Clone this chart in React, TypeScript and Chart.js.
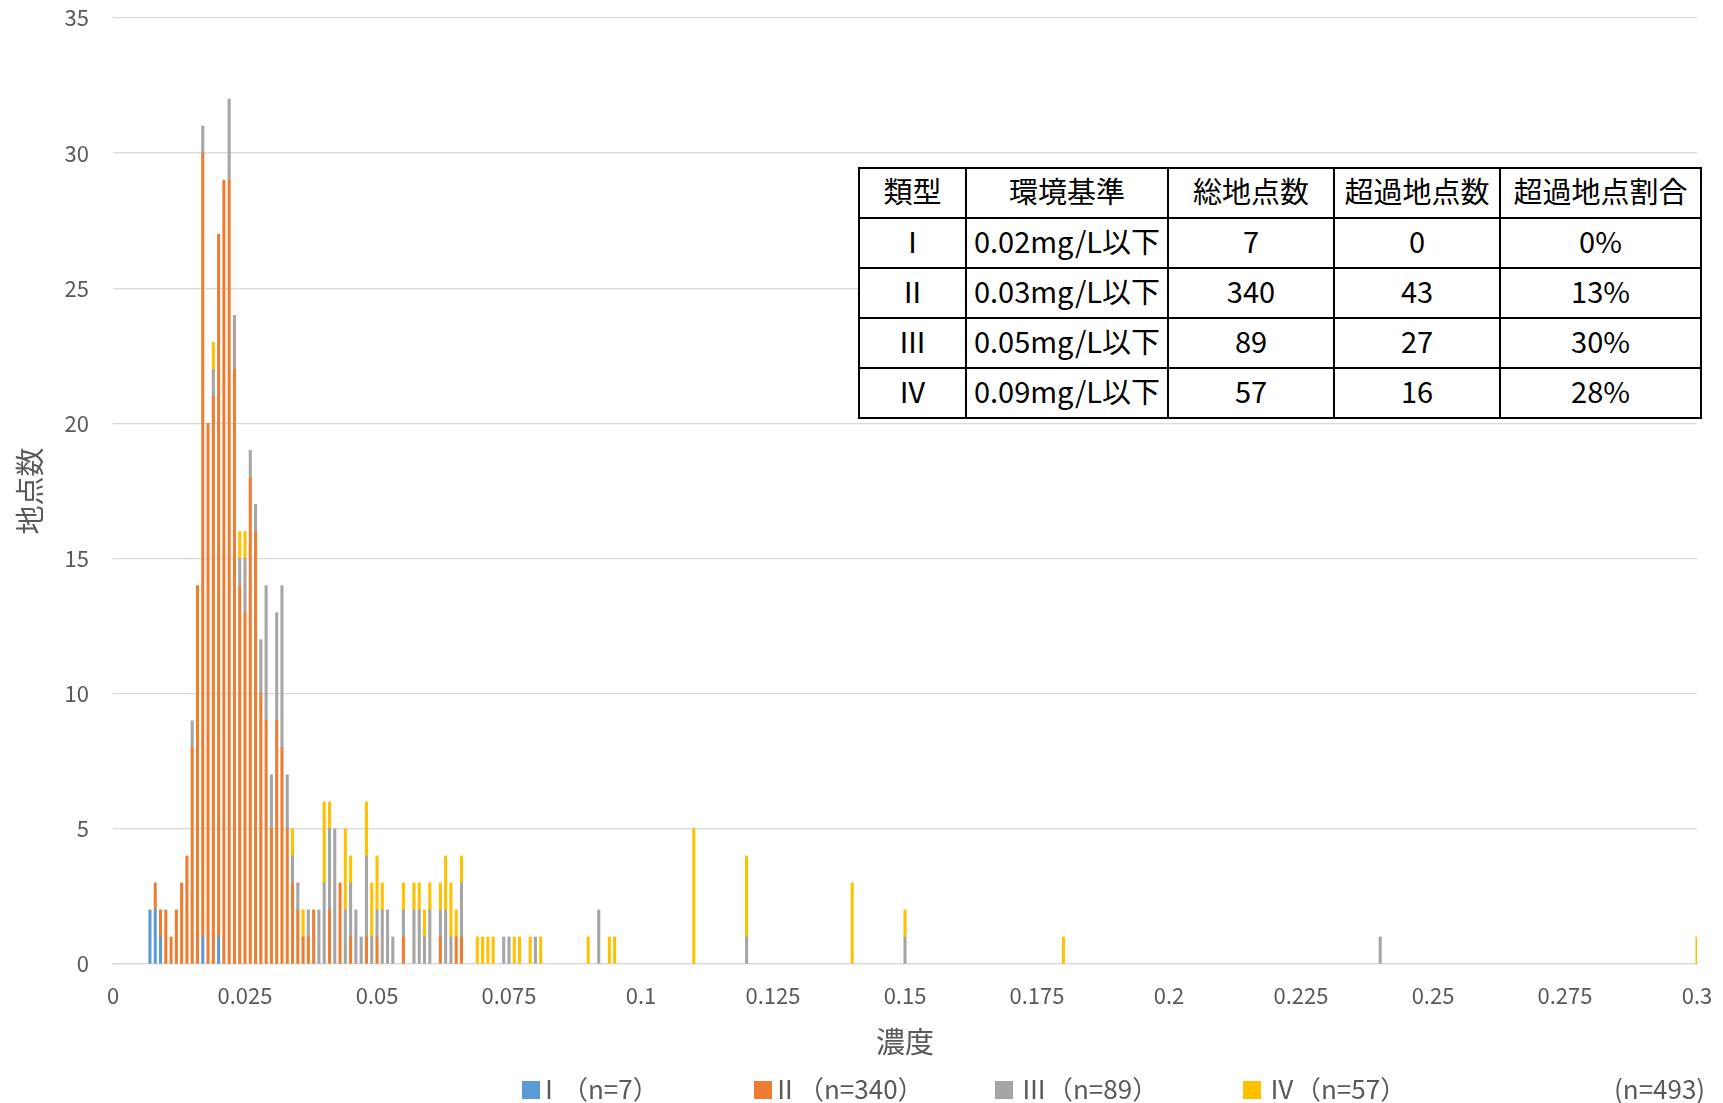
import React, { useEffect, useRef } from 'react';
import { Chart, registerables } from 'chart.js';

Chart.register(...registerables);

const FONT = '"Noto Sans CJK JP", "Noto Sans", sans-serif';

// ---- series data (concentration in mg/L, number of sites) ----
const typeIConc = [0.007, 0.008, 0.009, 0.017, 0.020];
const typeICount = [2, 2, 1, 1, 1];

const typeIIConc = [
  0.008, 0.009, 0.010, 0.011, 0.012, 0.013, 0.014, 0.015, 0.016, 0.017,
  0.018, 0.019, 0.020, 0.021, 0.022, 0.023, 0.024, 0.025, 0.026, 0.027,
  0.028, 0.029, 0.030, 0.031, 0.032, 0.033, 0.034, 0.035, 0.036, 0.037,
  0.038, 0.041, 0.043, 0.045, 0.048, 0.050, 0.055, 0.062, 0.065, 0.066,
];
const typeIICount = [
  1, 1, 2, 1, 2, 3, 4, 8, 14, 29,
  20, 21, 26, 29, 29, 22, 14, 13, 18, 16,
  10, 9, 5, 9, 8, 5, 3, 2, 1, 1,
  2, 2, 3, 1, 1, 1, 1, 1, 1, 1,
];

const typeIIIConc = [
  0.015, 0.017, 0.019, 0.022, 0.023, 0.024, 0.025, 0.026, 0.027, 0.028,
  0.029, 0.030, 0.031, 0.032, 0.033, 0.034, 0.035, 0.037, 0.039, 0.040,
  0.041, 0.042, 0.044, 0.045, 0.046, 0.047, 0.048, 0.049, 0.050, 0.051,
  0.052, 0.053, 0.055, 0.057, 0.058, 0.059, 0.060, 0.062, 0.063, 0.064,
  0.066, 0.074, 0.075, 0.080, 0.092, 0.120, 0.150, 0.240,
];
const typeIIICount = [
  1, 1, 1, 3, 2, 1, 2, 1, 1, 2,
  5, 2, 4, 6, 2, 1, 1, 1, 2, 3,
  3, 5, 2, 2, 2, 1, 3, 1, 1, 2,
  2, 1, 1, 2, 2, 1, 2, 1, 2, 1,
  2, 1, 1, 1, 2, 1, 1, 1,
];

const typeIVConc = [
  0.019, 0.024, 0.025, 0.034, 0.036, 0.040, 0.041, 0.044, 0.045, 0.048,
  0.049, 0.050, 0.051, 0.055, 0.057, 0.058, 0.059, 0.060, 0.062, 0.063,
  0.064, 0.065, 0.066, 0.069, 0.070, 0.071, 0.072, 0.076, 0.077, 0.079,
  0.081, 0.090, 0.094, 0.095, 0.110, 0.120, 0.140, 0.150, 0.180, 0.300,
];
const typeIVCount = [
  1, 1, 1, 1, 1, 3, 1, 3, 1, 2,
  2, 2, 1, 1, 1, 1, 1, 1, 1, 2,
  2, 1, 1, 1, 1, 1, 1, 1, 1, 1,
  1, 1, 1, 1, 5, 3, 3, 1, 1, 1,
];

const seriesLabels = ['Ⅰ（n=7）', 'Ⅱ（n=340）', 'Ⅲ（n=89）', 'Ⅳ（n=57）'];
const seriesColors = ['#5B9BD5', '#ED7D31', '#A5A5A5', '#FFC000'];
const totalLabel = '(n=493)';

const xAxisTitle = '濃度';
const yAxisTitle = '地点数';

// ---- table data ----
const tableHeaders = ['類型', '環境基準', '総地点数', '超過地点数', '超過地点割合'];
const tableTypes = ['Ⅰ', 'Ⅱ', 'Ⅲ', 'Ⅳ'];
const tableStandards = ['0.02mg/L以下', '0.03mg/L以下', '0.05mg/L以下', '0.09mg/L以下'];
const tableTotals = ['7', '340', '89', '57'];
const tableExceeded = ['0', '43', '27', '16'];
const tableRatios = ['0%', '13%', '30%', '28%'];

const W = 1723;
const H = 1103;

const toPoints = (xs: number[], ys: number[]) => xs.map((x, i) => ({ x, y: ys[i] }));

const App = () => {
  const canvasRef = useRef<HTMLCanvasElement | null>(null);

  useEffect(() => {
    document.body.style.margin = '0';
    const canvas = canvasRef.current;
    if (!canvas) return;
    const allSeries = [
      toPoints(typeIConc, typeICount),
      toPoints(typeIIConc, typeIICount),
      toPoints(typeIIIConc, typeIIICount),
      toPoints(typeIVConc, typeIVCount),
    ];
    const chart = new Chart(canvas, {
      type: 'bar',
      data: {
        datasets: allSeries.map((pts, i) => ({
          label: seriesLabels[i],
          data: pts,
          backgroundColor: seriesColors[i],
          borderWidth: 0,
          barThickness: 2.4,
        })),
      },
      options: {
        responsive: false,
        animation: false,
        devicePixelRatio: 1,
        layout: { padding: { left: 0, right: 26, top: 18, bottom: 0 } },
        plugins: {
          legend: { display: false },
          tooltip: { enabled: false },
        },
        scales: {
          x: {
            type: 'linear',
            min: 0,
            max: 0.3,
            stacked: true,
            offset: false,
            ticks: {
              stepSize: 0.025,
              padding: 18,
              color: '#595959',
              font: { family: FONT, size: 22 },
              maxRotation: 0,
              autoSkip: false,
              callback: (v: any) => String(parseFloat(Number(v).toFixed(3))),
            },
            grid: { display: false, drawTicks: false },
            border: { display: true, color: '#d9d9d9', width: 1.3 },
            title: {
              display: true,
              text: xAxisTitle,
              color: '#595959',
              font: { family: FONT, size: 29 },
              padding: { top: 0, bottom: 44 },
            },
            afterFit: (s: any) => {
              s.height = 139;
              s.paddingLeft = 0;
              s.paddingRight = 0;
            },
          },
          y: {
            min: 0,
            max: 35,
            stacked: true,
            ticks: {
              stepSize: 5,
              padding: 24,
              color: '#595959',
              font: { family: FONT, size: 22 },
            },
            grid: { color: '#d9d9d9', lineWidth: 1.3, drawTicks: false },
            border: { display: false },
            title: {
              display: true,
              text: yAxisTitle,
              color: '#595959',
              font: { family: FONT, size: 29 },
              padding: { top: 13, bottom: 0 },
            },
            afterFit: (s: any) => {
              s.width = 113;
              s.paddingTop = 0;
              s.paddingBottom = 0;
            },
          },
        },
      },
    } as any);
    return () => chart.destroy();
  }, []);

  const colWidths = [107, 202, 166, 166, 201];
  const rows = tableTypes.map((t, i) => [t, tableStandards[i], tableTotals[i], tableExceeded[i], tableRatios[i]]);
  const cellStyle: React.CSSProperties = {
    border: '2px solid #000',
    padding: '0 0 6px 0',
    textAlign: 'center',
    verticalAlign: 'middle',
    whiteSpace: 'nowrap',
    overflow: 'hidden',
    boxSizing: 'border-box',
  };

  const legendSquares = [522, 754, 995, 1243];
  const legendTextLeft = [536, 772, 1021, 1269];

  return (
    <div style={{ position: 'relative', width: W, height: H, background: '#fff', overflow: 'hidden', fontFamily: FONT }}>
      <canvas ref={canvasRef} width={W} height={H} style={{ position: 'absolute', left: 0, top: 0, width: W, height: H }} />
      <table
        style={{
          position: 'absolute',
          left: 858,
          top: 167,
          width: 842,
          borderCollapse: 'collapse',
          tableLayout: 'fixed',
          background: '#fff',
          fontSize: 29,
          color: '#000',
          fontFamily: FONT,
        }}
      >
        <colgroup>
          {colWidths.map((w, i) => (
            <col key={i} style={{ width: w }} />
          ))}
        </colgroup>
        <tbody>
          <tr style={{ height: 49 }}>
            {tableHeaders.map((h, i) => (
              <td key={i} style={cellStyle}>{h}</td>
            ))}
          </tr>
          {rows.map((r, ri) => (
            <tr key={ri} style={{ height: 49 }}>
              {r.map((c, ci) => (
                <td key={ci} style={cellStyle}>{c}</td>
              ))}
            </tr>
          ))}
        </tbody>
      </table>
      {seriesLabels.map((lab, i) => (
        <React.Fragment key={i}>
          <div
            style={{
              position: 'absolute',
              left: legendSquares[i],
              top: 1081,
              width: 18,
              height: 18,
              background: seriesColors[i],
            }}
          />
          <div
            style={{
              position: 'absolute',
              left: legendTextLeft[i],
              top: 1072,
              height: 32,
              lineHeight: '32px',
              fontSize: 26,
              color: '#595959',
              whiteSpace: 'nowrap',
            }}
          >
            {lab}
          </div>
        </React.Fragment>
      ))}
      <div
        style={{
          position: 'absolute',
          left: 1614,
          top: 1072,
          height: 32,
          lineHeight: '32px',
          fontSize: 26,
          color: '#595959',
          whiteSpace: 'nowrap',
        }}
      >
        {totalLabel}
      </div>
    </div>
  );
};

export default App;
